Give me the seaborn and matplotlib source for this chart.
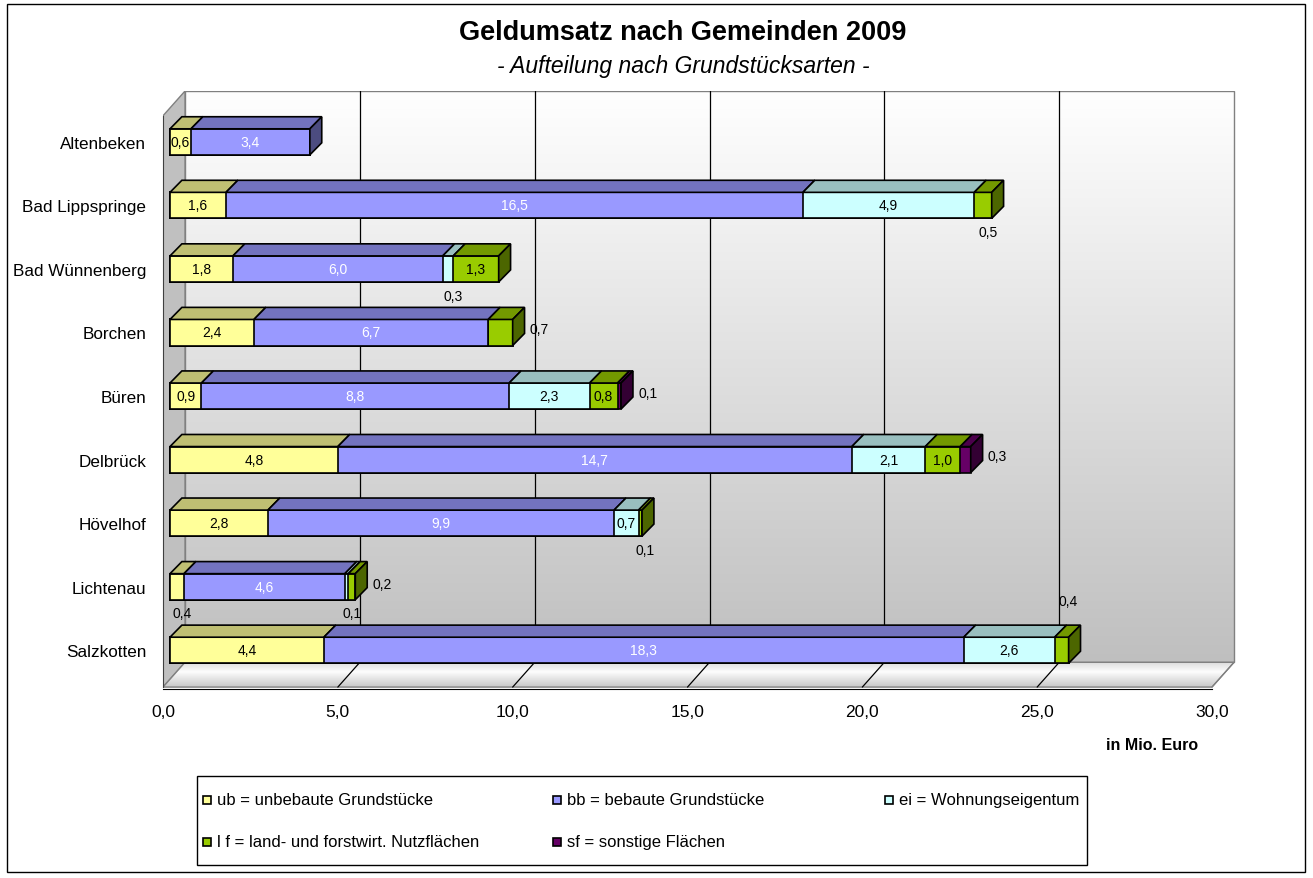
import numpy as np
import matplotlib.pyplot as plt
import seaborn as sns
from matplotlib.patches import Polygon, Rectangle

# Stil
sns.set_style("white")
plt.rcParams['font.family'] = ['Liberation Sans', 'DejaVu Sans']
plt.rcParams['text.color'] = 'black'
plt.rcParams['xtick.color'] = 'black'
plt.rcParams['ytick.color'] = 'black'

# Daten (Mio. Euro)
gemeinden = ["Altenbeken", "Bad Lippspringe", "Bad Wünnenberg", "Borchen", "Büren",
             "Delbrück", "Hövelhof", "Lichtenau", "Salzkotten"]
ub = [0.6, 1.6, 1.8, 2.4, 0.9, 4.8, 2.8, 0.4, 4.4]
bb = [3.4, 16.5, 6.0, 6.7, 8.8, 14.7, 9.9, 4.6, 18.3]
ei = [0.0, 4.9, 0.3, 0.0, 2.3, 2.1, 0.7, 0.1, 2.6]
lf = [0.0, 0.5, 1.3, 0.7, 0.8, 1.0, 0.1, 0.2, 0.4]
sf = [0.0, 0.0, 0.0, 0.0, 0.1, 0.3, 0.0, 0.0, 0.0]
serien = ["ub = unbebaute Grundstücke", "bb = bebaute Grundstücke", "ei = Wohnungseigentum",
          "l f = land- und forstwirt. Nutzflächen", "sf = sonstige Flächen"]
x_ticks = [0, 5, 10, 15, 20, 25, 30]

werte = np.array([ub, bb, ei, lf, sf])

# Farben: Vorderseite, Oberseite, Seite, Beschriftung
front = ["#FFFF99", "#9999FF", "#CCFFFF", "#99CC00", "#660066"]
top = ["#BFBF73", "#7373BF", "#99BFBF", "#739900", "#4C004C"]
side = ["#80804C", "#4C4C80", "#668080", "#4C6600", "#330033"]
txt = ["black", "white", "black", "black", "black"]

# Beschriftungen ausserhalb der Balken
aussen = {(1, 3): "below", (2, 2): "below", (3, 3): "right", (4, 4): "right",
          (5, 4): "right", (6, 3): "below", (7, 0): "below", (7, 2): "below",
          (7, 3): "right", (8, 3): "above"}

H = 0.41              # Balkenhoehe
DX, DY = 0.34, -0.19  # Balkentiefe
WX, WY = 0.63, -0.39  # Wandtiefe
X0 = -0.2             # vordere Achse
YF = 8.58             # Boden vorne
YTOP = -0.8

fig = plt.figure(figsize=(13.13, 8.79), dpi=100)
ax = fig.add_axes([163 / 1313, (879 - 690) / 879, 1078 / 1313, 598 / 879])

# Rueckwand mit Verlauf
grad = np.linspace(1.0, 0.75, 256)[:, None, None] * np.ones((1, 1, 3))
ax.imshow(grad, extent=[X0 + WX, X0 + WX + 30, YF + WY, YTOP], aspect='auto', zorder=0)
ax.add_patch(Rectangle((X0 + WX, YTOP), 30, YF + WY - YTOP, fill=False,
                       edgecolor="#808080", lw=1, zorder=1))
for v in x_ticks[1:-1]:
    ax.plot([X0 + WX + v] * 2, [YF + WY, YTOP], color="black", lw=0.9, zorder=1)

# Seitenwand
ax.add_patch(Polygon([(X0, YTOP - WY), (X0 + WX, YTOP), (X0 + WX, YF + WY), (X0, YF)],
                     facecolor="#C0C0C0", edgecolor="#808080", lw=1, zorder=1))

# Boden
boden = Polygon([(X0, YF), (X0 + 30, YF), (X0 + WX + 30, YF + WY), (X0 + WX, YF + WY)],
                facecolor="none", edgecolor="#808080", lw=1, zorder=2)
ax.add_patch(boden)
fg = np.concatenate([np.linspace(0.86, 0.99, 100), np.linspace(0.99, 0.78, 156)])
fgrad = fg[:, None, None] * np.ones((1, 1, 3))
im = ax.imshow(fgrad, extent=[X0, X0 + WX + 30, YF, YF + WY], aspect='auto', zorder=1)
im.set_clip_path(boden)
for v in x_ticks[1:]:
    ax.plot([X0 + v, X0 + WX + v], [YF, YF + WY],
            color="black" if v < 30 else "#808080", lw=0.9, zorder=2)

# Balken (gestapelt, von hinten nach vorne)
kum = np.cumsum(werte, axis=0)
links = kum - werte
for k in reversed(range(len(serien))):
    sns.barplot(x=kum[k], y=gemeinden, orient='h', color=front[k], saturation=1,
                width=H, edgecolor="black", linewidth=1.2, errorbar=None, ax=ax, zorder=3)

# 3D-Flaechen
for i in range(len(gemeinden)):
    yt = i - H / 2
    yb = i + H / 2
    letzte = max(k for k in range(len(serien)) if werte[k, i] > 0)
    for k in range(len(serien)):
        if werte[k, i] <= 0:
            continue
        x0, x1 = links[k, i], kum[k, i]
        ax.add_patch(Polygon([(x0, yt), (x1, yt), (x1 + DX, yt + DY), (x0 + DX, yt + DY)],
                             facecolor=top[k], edgecolor="black", lw=1.2, zorder=4))
        if k == letzte:
            ax.add_patch(Polygon([(x1, yt), (x1 + DX, yt + DY), (x1 + DX, yb + DY), (x1, yb)],
                                 facecolor=side[k], edgecolor="black", lw=1.2, zorder=4))
        # Werte
        s = f"{werte[k, i]:.1f}".replace(".", ",")
        mid = (x0 + x1) / 2
        pos = aussen.get((i, k))
        if pos == "below":
            ax.text(mid + 0.15, i + 0.42, s, ha="center", va="center", fontsize=10, zorder=5)
        elif pos == "right":
            ax.text(kum[-1, i] + DX + 0.15, i - 0.05, s, ha="left", va="center",
                    fontsize=10, zorder=5)
        elif pos == "above":
            ax.text(mid + 0.2, i - 0.78, s, ha="center", va="center", fontsize=10, zorder=5)
        else:
            ax.text(mid, i, s, ha="center", va="center", fontsize=10, color=txt[k], zorder=5)

# Achsen
ax.set_xlim(X0, X0 + WX + 30.2)
ax.set_ylim(YF, YTOP)
ax.set_xticks([X0 + v for v in x_ticks])
ax.set_xticklabels([f"{v:.1f}".replace(".", ",") for v in x_ticks], fontsize=12.5)
ax.set_yticks(range(len(gemeinden)))
ax.set_yticklabels(gemeinden, fontsize=12.3)
ax.set_yticks([i - 0.39 for i in range(len(gemeinden) + 1)], minor=True)
ax.tick_params(axis="x", direction="out", length=8, width=1, color="black", pad=3)
ax.tick_params(axis="y", which="major", length=0, pad=12)
ax.tick_params(axis="y", which="minor", direction="out", length=6, width=1, color="#404040")
ax.set_xlabel("")
ax.set_ylabel("")
for s in ["top", "right"]:
    ax.spines[s].set_visible(False)
ax.spines["bottom"].set_bounds(X0, X0 + 30)
ax.spines["bottom"].set_color("black")
ax.spines["left"].set_bounds(YTOP - WY, YF)
ax.spines["left"].set_color("#404040")
ax.set_facecolor("none")

# Titel
fig.text(683 / 1313, 1 - 33 / 879, "Geldumsatz nach Gemeinden 2009", ha="center", va="center",
         fontsize=19.5, fontweight="bold")
fig.text(683 / 1313, 1 - 66 / 879, "- Aufteilung nach Grundstücksarten -", ha="center",
         va="center", fontsize=16.5, fontstyle="italic")
fig.text(1198 / 1313, 1 - 746 / 879, "in Mio. Euro", ha="right", va="center",
         fontsize=11.5, fontweight="bold")

# Legende
fig.add_artist(Rectangle((197 / 1313, 1 - 866 / 879), 890 / 1313, 89 / 879,
                         transform=fig.transFigure, fill=False, edgecolor="black", lw=1))
leg_x = [203, 553, 885, 203, 553]
leg_y = [801, 801, 801, 843, 843]
for k in range(len(serien)):
    fig.add_artist(Rectangle((leg_x[k] / 1313, 1 - (leg_y[k] + 4) / 879), 8 / 1313, 8 / 879,
                             transform=fig.transFigure, facecolor=front[k],
                             edgecolor="black", lw=1.2))
    fig.text((leg_x[k] + 14) / 1313, 1 - leg_y[k] / 879, serien[k], ha="left", va="center",
             fontsize=12)

# Rahmen
fig.add_artist(Rectangle((7 / 1313, 1 - 873 / 879), 1298 / 1313, 868 / 879,
                         transform=fig.transFigure, fill=False, edgecolor="black", lw=1))

fig.savefig("out.png", dpi=100)
